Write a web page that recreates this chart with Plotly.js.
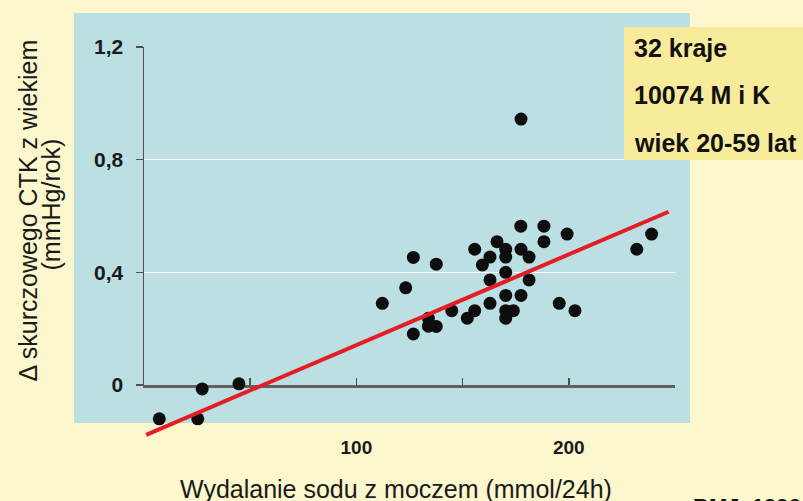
<!DOCTYPE html>
<html><head><meta charset="utf-8">
<script src="https://cdn.plot.ly/plotly-3.0.1.min.js"></script>
<style>html,body{margin:0;padding:0;background:#FCF7CD;} #chart{width:803px;height:501px;}</style>
</head><body><div id="chart"></div>
<script>
// ---- data ----
const sodiumX = [7.2, 25.3, 27.4, 44.7, 112.2, 123.2, 126.8, 126.8, 133.9, 133.9, 137.6, 137.6, 144.9, 152.2, 155.7, 155.7, 159.3, 162.9, 162.9, 162.9, 166.2, 170.3, 170.3, 170.3, 170.3, 170.3, 170.3, 173.9, 177.4, 177.5, 177.5, 181.3, 181.3, 188.3, 188.3, 195.5, 199.2, 202.9, 232.0, 239.0, 177.5];
const sbpSlope = [-0.120, -0.120, -0.014, 0.004, 0.290, 0.345, 0.453, 0.181, 0.237, 0.209, 0.208, 0.429, 0.264, 0.237, 0.264, 0.482, 0.426, 0.454, 0.373, 0.290, 0.509, 0.482, 0.454, 0.400, 0.318, 0.264, 0.237, 0.264, 0.564, 0.482, 0.318, 0.454, 0.373, 0.564, 0.509, 0.290, 0.536, 0.264, 0.482, 0.536, 0.944];
const fitX = [1, 247];
const fitY = [-0.177, 0.615];
const xTickVals = [50, 100, 150, 200, 250];
const xTickText = ['', '100', '', '200', ''];
const yTickVals = [0, 0.4, 0.8, 1.2];
const yTickText = ['0', '0,4', '0,8', '1,2'];
const xTitle = 'Wydalanie sodu z moczem (mmol/24h)';
const yTitleLines = ['Δ skurczowego CTK z wiekiem', '(mmHg/rok)'];
const infoLines = ['32 kraje', '10074 M i K', 'wiek 20-59 lat'];
const sourceText = 'BMJ, 1996';

// ---- layout geometry (pixels) ----
const W = 803, H = 501;
const px = p => p / W;
const py = p => 1 - p / H;
const FONT = 'Arial, "Liberation Sans", sans-serif';

// axis frame: x 0..250 -> 144..675 px ; y 0..1.2 -> 385..47 px
const axL = 144, axR = 675, axB = 385, axT = 47;
const xMax = 250, yMax = 1.2;
const xs = (axR - axL) / xMax, ys = (axB - axT) / yMax;
// data layer spans a larger area
const dL = 74, dR = 700, dT = 10, dB = 450;
const x2range = [(dL - axL) / xs, (dR - axL) / xs];
const y2range = [-(dB - axB) / ys, (axB - dT) / ys];

const traces = [
  {x: [], y: [], type: 'scatter', mode: 'markers', xaxis: 'x', yaxis: 'y', showlegend: false, hoverinfo: 'skip'},
  {x: sodiumX, y: sbpSlope, type: 'scatter', mode: 'markers', xaxis: 'x2', yaxis: 'y2',
   marker: {size: 13, color: '#0d0d0d'}, showlegend: false, cliponaxis: false},
  {x: fitX, y: fitY, type: 'scatter', mode: 'lines', xaxis: 'x2', yaxis: 'y2',
   line: {color: '#E31E24', width: 4}, showlegend: false}
];

const tickFont = {family: FONT, size: 19, color: '#1a1a1a', weight: 'bold'};

const annotations = [
  {text: xTitle, xref: 'paper', yref: 'paper', x: px(396), y: py(473), xanchor: 'center', yanchor: 'top',
   showarrow: false, font: {family: FONT, size: 25, color: '#1a1a1a'}},
  {text: yTitleLines[0], xref: 'paper', yref: 'paper', x: px(27.5), y: py(211), xanchor: 'center', yanchor: 'middle',
   textangle: -90, showarrow: false, font: {family: FONT, size: 25, color: '#1a1a1a'}},
  {text: yTitleLines[1], xref: 'paper', yref: 'paper', x: px(50.5), y: py(205), xanchor: 'center', yanchor: 'middle',
   textangle: -90, showarrow: false, font: {family: FONT, size: 25, color: '#1a1a1a'}},
  {text: sourceText, xref: 'paper', yref: 'paper', x: px(691), y: py(492), xanchor: 'left', yanchor: 'top',
   showarrow: false, font: {family: FONT, size: 22, color: '#111', weight: 'bold'}}
];
const infoTops = [32, 79, 127];
infoLines.forEach((t, i) => annotations.push({
  text: t, xref: 'paper', yref: 'paper', x: px(632), y: py(infoTops[i]), xanchor: 'left', yanchor: 'top',
  showarrow: false, font: {family: FONT, size: 25, color: '#111', weight: 'bold'}
}));

const layout = {
  width: W, height: H,
  margin: {l: 0, r: 0, t: 0, b: 0, pad: 0},
  paper_bgcolor: '#FCF7CD',
  plot_bgcolor: 'rgba(0,0,0,0)',
  showlegend: false,
  hovermode: false,
  xaxis: {
    domain: [px(axL), px(axR)], range: [0, xMax], anchor: 'y',
    showgrid: false, zeroline: false,
    showline: true, linecolor: '#606060', linewidth: 2.5,
    ticks: 'inside', ticklen: 7, tickwidth: 1.5, tickcolor: '#505050',
    tickmode: 'array', tickvals: xTickVals, ticktext: xTickText,
    tickfont: tickFont, ticklabelstandoff: 44
  },
  yaxis: {
    domain: [py(axB), py(axT)], range: [0, yMax], anchor: 'x',
    showgrid: true, gridcolor: '#FFFFFF', gridwidth: 1.5, zeroline: false,
    showline: true, linecolor: '#505050', linewidth: 1.5,
    ticks: 'outside', ticklen: 7, tickwidth: 1.5, tickcolor: '#505050',
    tickmode: 'array', tickvals: yTickVals, ticktext: yTickText,
    tickfont: Object.assign({}, tickFont, {size: 21}), ticklabelstandoff: 8
  },
  xaxis2: {domain: [px(dL), px(dR)], range: x2range, anchor: 'y2', visible: false, fixedrange: true},
  yaxis2: {domain: [py(dB), py(dT)], range: y2range, anchor: 'x2', visible: false, fixedrange: true},
  shapes: [
    {type: 'rect', xref: 'paper', yref: 'paper', x0: px(74), x1: px(690), y0: py(423), y1: py(13),
     fillcolor: '#BCDFE4', line: {width: 0}, layer: 'below'},
    {type: 'rect', xref: 'paper', yref: 'paper', x0: px(624), x1: 1.02, y0: py(160), y1: py(27),
     fillcolor: '#F9EB9C', line: {width: 0}, layer: 'above'}
  ],
  annotations: annotations
};

Plotly.newPlot('chart', traces, layout, {displayModeBar: false, staticPlot: true});
</script>
</body></html>
